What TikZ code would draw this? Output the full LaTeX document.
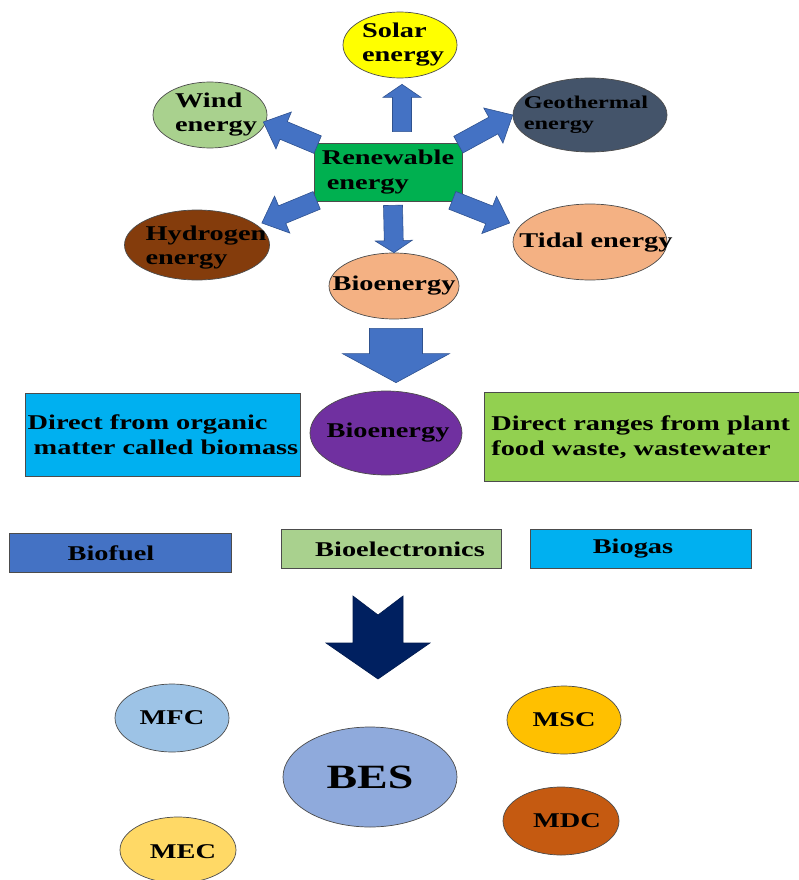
\documentclass[tikz,border=0pt]{standalone}
\usepackage{fontspec}
\setmainfont{Liberation Serif}[FakeStretch=1.35]
\usetikzlibrary{shapes.geometric,calc}

\definecolor{arrblue}{HTML}{4472C4}
\definecolor{arredge}{HTML}{2F528F}
\definecolor{solaryel}{HTML}{FFFF00}
\definecolor{windgrn}{HTML}{A9D18E}
\definecolor{geoslate}{HTML}{44546A}
\definecolor{rengrn}{HTML}{00B050}
\definecolor{hydbrown}{HTML}{843C0C}
\definecolor{peach}{HTML}{F4B183}
\definecolor{biopurple}{HTML}{7030A0}
\definecolor{skycyan}{HTML}{00B0F0}
\definecolor{limegrn}{HTML}{92D050}
\definecolor{navy}{HTML}{002060}
\definecolor{mfcblue}{HTML}{9DC3E6}
\definecolor{besblue}{HTML}{8FAADC}
\definecolor{mscgold}{HTML}{FFC000}
\definecolor{mdcrust}{HTML}{C55A11}
\definecolor{mecyel}{HTML}{FFD966}

% block arrow: tail, tip, half shaft, half head, head length (pt)
\newcommand\blockarrow[5]{%
  \path (#2) coordinate (tipA) ($(#2)!#5pt!(#1)$) coordinate (baseA);
  \filldraw[fill=arrblue, draw=arredge, line width=0.6pt]
    ($(#1)!#3pt!90:(#2)$) -- ($(baseA)!#3pt!90:(tipA)$) -- ($(baseA)!#4pt!90:(tipA)$)
    -- (tipA) -- ($(baseA)!#4pt!-90:(tipA)$) -- ($(baseA)!#3pt!-90:(tipA)$)
    -- ($(#1)!#3pt!-90:(#2)$) -- cycle;
}

\begin{document}
\begin{tikzpicture}[x=1pt,y=-1pt,
  every node/.style={inner sep=0pt},
  lbl/.style={font=\bfseries\fontsize{21}{24}\selectfont, align=left},
  bubble/.style={ellipse, draw=black!70, line width=0.7pt},
  panel/.style={rectangle, draw=black!70, line width=0.7pt,
    font=\bfseries\fontsize{21}{25}\selectfont, align=left}]
  \useasboundingbox (0,0) rectangle (799,880);

  \node[panel, fill=rengrn, minimum width=148, minimum height=58] (ren) at (388,172) {Renewable\\\hspace{5pt}energy};

  \node[bubble, fill=solaryel, minimum width=114, minimum height=66] (solar) at (400,45) {};
  \node[lbl] (solart) at ($(solar)+(3,0)$) {Solar\\energy};
  \node[bubble, fill=windgrn, minimum width=114, minimum height=66] (wind) at (210,115) {};
  \node[lbl] (windt) at ($(wind)+(6,0)$) {Wind\\energy};
  \node[bubble, fill=geoslate, minimum width=154, minimum height=74] (geo) at (590,115) {};
  \node[lbl, font=\bfseries\fontsize{18}{21}\selectfont] (geot) at ($(geo)+(-4,0)$) {Geothermal\\energy};
  \node[bubble, fill=hydbrown, minimum width=145, minimum height=70] (hyd) at (197,245) {};
  \node[lbl] (hydt) at ($(hyd)+(9,3)$) {Hydrogen\\energy};
  \node[bubble, fill=peach, minimum width=154, minimum height=76] (tidal) at (590,242) {};
  \node[lbl] (tidalt) at ($(tidal)+(6,1)$) {Tidal energy};
  \node[bubble, fill=peach, minimum width=130, minimum height=66] (bio) at (394,286) {};
  \node[lbl] (biot) at (bio) {Bioenergy};

  \coordinate (upS) at ($(ren.north)+(14,-11)$);
  \coordinate (upE) at ($(solar.south)+(2,6)$);
  \coordinate (windS) at ($(ren.north west)+(4,2)$);
  \coordinate (windE) at ($(wind.east)+(-4,7)$);
  \coordinate (geoS) at ($(ren.north east)+(-4,2)$);
  \coordinate (hydS) at ($(ren.south west)+(3,-1)$);
  \coordinate (hydE) at ($(hyd.east)+(-8,-22)$);
  \coordinate (tidS) at ($(ren.south east)+(-10,-1)$);
  \coordinate (tidE) at ($(tidal.west)+(-3,-19)$);
  \coordinate (downS) at ($(ren.south)+(5,4)$);

  \blockarrow{upS}{upE}{9.5}{19}{13}
  \blockarrow{windS}{windE}{9.5}{20}{22}
  \blockarrow{geoS}{geo.west}{9.5}{20}{22}
  \blockarrow{hydS}{hydE}{9.5}{20}{22}
  \blockarrow{tidS}{tidE}{9.5}{20}{22}
  \blockarrow{downS}{bio.north}{9.5}{18.5}{12}

  \node[panel, fill=skycyan, minimum width=275, minimum height=83] (organic) at (163,435) {Direct from organic\\\hspace{6pt}matter called biomass};
  \node[bubble, fill=biopurple, minimum width=152, minimum height=84] (bio2) at (386,433) {};
  \node[lbl] (bio2t) at ($(bio2)+(2,0)$) {Bioenergy};
  \node[panel, fill=limegrn, minimum width=320, minimum height=89, text width=306, anchor=west] (waste) at (484,437) {Direct ranges from plant\\food waste, wastewater};

  \coordinate (bigS) at ($(bio.south)+(2,9)$);
  \coordinate (bigE) at ($(bio2.north)+(10,-8)$);
  \blockarrow{bigS}{bigE}{26.5}{53.5}{29}

  \node[panel, fill=arrblue, minimum width=222, minimum height=39] (biofuel) at (120,553) {Biofuel\hspace{18pt}};
  \node[panel, fill=windgrn, minimum width=220, minimum height=39] (bioel) at (391,549) {\hspace{18pt}Bioelectronics};
  \node[panel, fill=skycyan, minimum width=221, minimum height=39] (biogas) at (641,549) {Biogas\hspace{16pt}};

  \filldraw[fill=navy, draw=navy!80!black, line width=0.6pt]
    (353,596) -- (378,615) -- (403,596) -- (403,643) -- (430,643) -- (378,679)
    -- (326,643) -- (353,643) -- cycle;

  \node[bubble, fill=mfcblue, minimum width=114, minimum height=68] (mfc) at (172,718) {};
  \node[lbl] (mfct) at (mfc) {MFC};
  \node[bubble, fill=besblue, minimum width=174, minimum height=100] (bes) at (370,777) {};
  \node[lbl, font=\bfseries\fontsize{34}{40}\selectfont] (best) at (bes) {BES};
  \node[bubble, fill=mscgold, minimum width=114, minimum height=68] (msc) at (564,720) {};
  \node[lbl] (msct) at (msc) {MSC};
  \node[bubble, fill=mdcrust, minimum width=116, minimum height=68] (mdc) at (561,821) {};
  \node[lbl] (mdct) at ($(mdc)+(6,0)$) {MDC};
  \node[bubble, fill=mecyel, minimum width=116, minimum height=66] (mec) at (178,850) {};
  \node[lbl] (mect) at ($(mec)+(5,2)$) {MEC};
\end{tikzpicture}
\end{document}
